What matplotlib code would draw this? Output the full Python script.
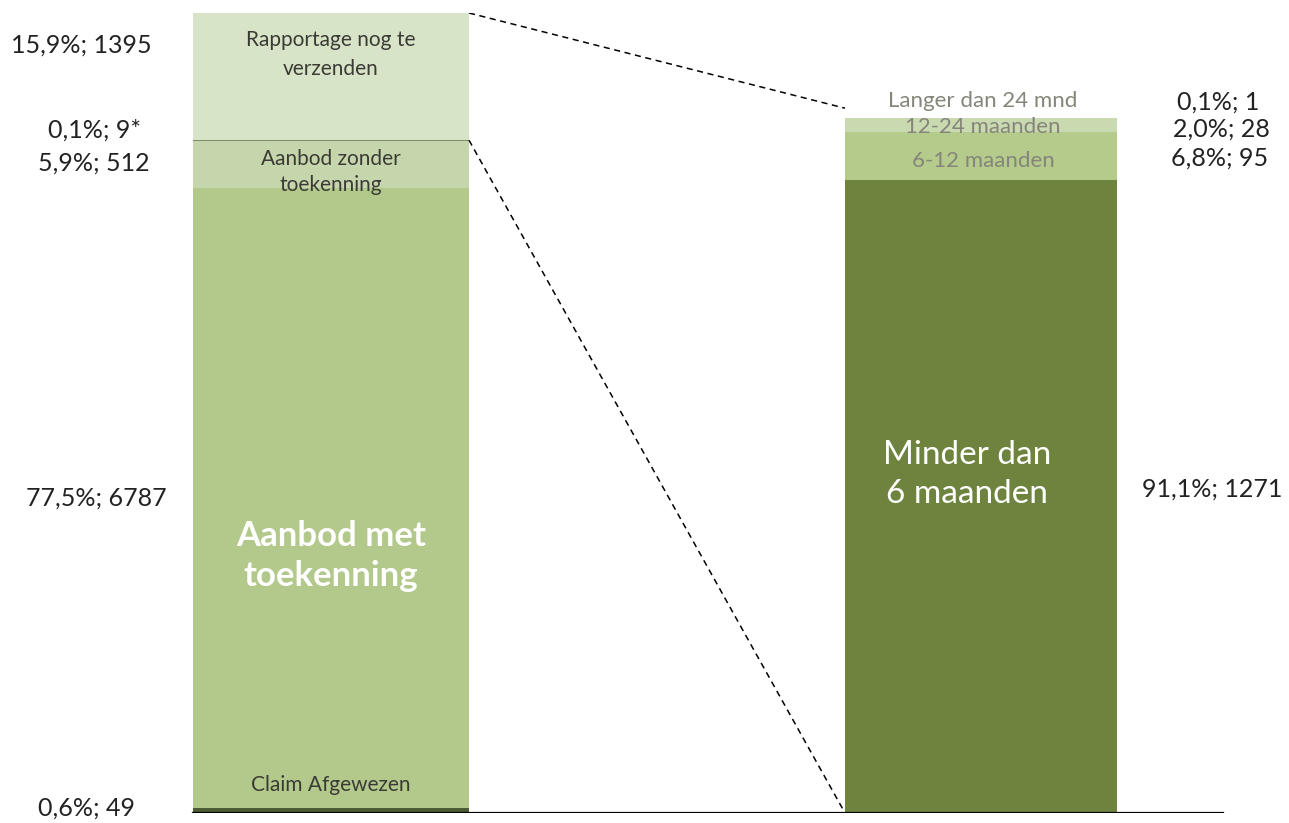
import matplotlib
matplotlib.use('Agg')
import matplotlib.pyplot as plt

plt.rcParams['font.family'] = ['Lato', 'DejaVu Sans']

# left bar, bottom to top
left_names = ['Claim Afgewezen', 'Aanbod met\ntoekenning', 'Aanbod zonder\ntoekenning', '',
              'Rapportage nog te\nverzenden']
left_pct = [0.6, 77.5, 5.9, 0.1, 15.9]
left_labels = ['0,6%; 49', '77,5%; 6787', '5,9%; 512', '0,1%; 9*', '15,9%; 1395']
left_colors = ['#4d5c33', '#b2c98b', '#c6d6ac', '#7d8c66', '#d8e4c8']

# right bar (breakdown of "Rapportage nog te verzenden"), bottom to top
right_names = ['Minder dan\n6 maanden', '6-12 maanden', '12-24 maanden', 'Langer dan 24 mnd']
right_pct = [91.1, 6.8, 2.0, 0.1]
right_labels = ['91,1%; 1271', '6,8%; 95', '2,0%; 28', '0,1%; 1']
right_colors = ['#6e843e', '#b4cb8c', '#c9d9b0', '#d6e2c6']
right_scale = 0.869  # right bar drawn a bit shorter than the left

W, H = 1289, 823
fig = plt.figure(figsize=(W / 100, H / 100), dpi=100)
ax = fig.add_axes([0, 10 / H, 1, 800 / H])
ax.set_xlim(0, W)
ax.set_ylim(0, 100)
ax.axis('off')

lx, lw = 331, 276
rx, rw = 981, 272

bottom = 0
left_bottoms = []
for pct, c in zip(left_pct, left_colors):
    ax.bar(lx, pct, width=lw, bottom=bottom, color=c, linewidth=0)
    left_bottoms.append(bottom)
    bottom += pct
left_top = bottom

bottom = 0
right_bottoms = []
for pct, c in zip(right_pct, right_colors):
    h = pct * right_scale
    ax.bar(rx, h, width=rw, bottom=bottom, color=c, linewidth=0)
    right_bottoms.append(bottom)
    bottom += h
right_top = bottom

# baseline
ax.plot([lx - lw / 2, 1223], [0, 0], color='black', lw=1.6)

# connector dashed lines
ax.plot([lx + lw / 2, rx - rw / 2], [left_top, right_top + 1.2], color='black', lw=1.1,
        ls=(0, (4, 3)))
ax.plot([lx + lw / 2, rx - rw / 2], [left_bottoms[4], 0], color='black', lw=1.1,
        ls=(0, (4, 3)))

# texts in left bar
dark = '#3b3b35'
ax.text(lx, 94.8, left_names[4], ha='center', va='center',
        fontsize=15, color=dark, linespacing=1.6)
ax.text(lx, 80.1, left_names[2], ha='center', va='center',
        fontsize=15, color=dark, linespacing=1.4)
ax.text(lx, 3.5, left_names[0], ha='center', va='center', fontsize=15, color=dark)
ax.text(lx, 32.1, left_names[1], ha='center', va='center', fontsize=25,
        color='white', fontweight='bold', linespacing=1.3)

# value labels on the left
lab_pos = [(87, 0.6), (96, 39.4), (94, 81.2), (94, 85.4), (81, 96.0)]
for (x, y), s in zip(lab_pos, left_labels):
    ax.text(x, y, s, ha='center', va='center', fontsize=18, color='#222222')

# texts in right bar
grey = '#85857a'
ax.text(983, 81.5, right_names[1], ha='center', va='center', fontsize=16, color=grey)
ax.text(983, 85.7, right_names[2], ha='center', va='center', fontsize=16, color=grey)
ax.text(983, 89.0, right_names[3], ha='center', va='center', fontsize=16, color=grey)
ax.text(967, 42.3, right_names[0], ha='center', va='center', fontsize=24,
        color='white', linespacing=1.35)

# value labels on the right
rlab = [(1212, 40.5), (1220, 81.9), (1221, 85.5), (1218, 88.9)]
for (x, y), s in zip(rlab, right_labels):
    ax.text(x, y, s, ha='center', va='center', fontsize=18, color='#222222')

fig.savefig('out.png', dpi=100)
